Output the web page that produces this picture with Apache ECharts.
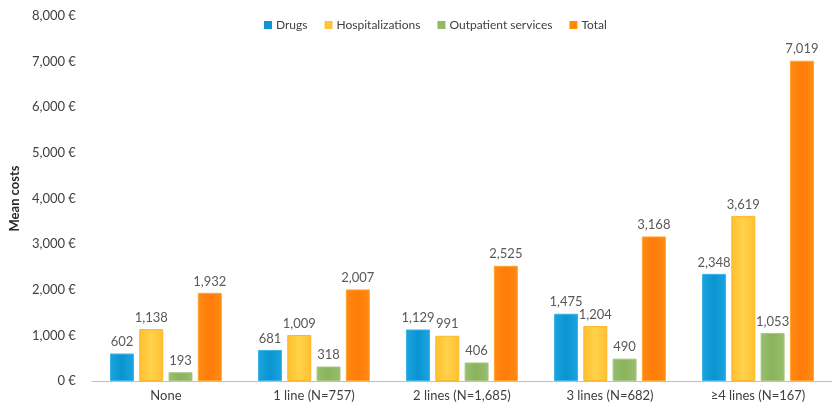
<!DOCTYPE html>
<html>
<head>
<meta charset="utf-8">
<script src="https://cdn.jsdelivr.net/npm/echarts@6/dist/echarts.min.js"></script>
<style>html,body{margin:0;padding:0;background:#fff;}#c{width:832px;height:405px;}</style>
</head>
<body>
<div id="c"></div>
<script>
var categories = ['None', '1 line (N=757)', '2 lines (N=1,685)', '3 lines (N=682)', '\u22654 lines (N=167)'];
var drugs = [602, 681, 1129, 1475, 2348];
var hospitalizations = [1138, 1009, 991, 1204, 3619];
var outpatient = [193, 318, 406, 490, 1053];
var total = [1932, 2007, 2525, 3168, 7019];
var yTicks = [0, 1000, 2000, 3000, 4000, 5000, 6000, 7000, 8000];

var FONT = 'Lato, "Open Sans", sans-serif';
function grad(edge, mid) {
  return new echarts.graphic.LinearGradient(0, 0, 1, 0, [
    {offset: 0, color: edge}, {offset: 0.5, color: mid}, {offset: 1, color: edge}
  ]);
}
function fmt(v) { return v.toLocaleString('en-US'); }
function mk(name, data, c1, c2, border) {
  return {
    name: name, type: 'bar', data: data, barWidth: 24, barGap: '22%',
    itemStyle: {color: grad(c1, c2), borderColor: border, borderWidth: 1},
    label: {show: true, position: 'top', distance: 5, color: '#595959', fontSize: 13, fontFamily: FONT,
      formatter: function (p) { return fmt(p.value); }}
  };
}
var chart = echarts.init(document.getElementById('c'), null, {renderer: 'canvas'});
chart.setOption({
  animation: false,
  legend: {
    top: 14, left: 259, itemWidth: 8, itemHeight: 8, itemGap: 17,
    icon: 'rect',
    textStyle: {color: '#404040', fontSize: 12, fontFamily: FONT, padding: [0, 0, 0, -1]},
    data: [
      {name: 'Drugs', itemStyle: {color: '#0E96D4', borderWidth: 0}},
      {name: 'Hospitalizations', itemStyle: {color: '#FFC33A', borderWidth: 0}},
      {name: 'Outpatient services', itemStyle: {color: '#93B866', borderWidth: 0}},
      {name: 'Total', itemStyle: {color: '#FF8C00', borderWidth: 0}}
    ]
  },
  grid: {left: 85, right: -10, top: 16, bottom: 24, containLabel: false},
  xAxis: {
    type: 'category', data: categories,
    axisLine: {lineStyle: {color: '#BFBFBF', width: 1}},
    axisTick: {show: false},
    axisLabel: {color: '#404040', fontSize: 13, fontFamily: FONT, margin: 8}
  },
  yAxis: {
    type: 'value', min: yTicks[0], max: yTicks[yTicks.length - 1], interval: 1000,
    name: 'Mean costs', nameLocation: 'middle', nameGap: 67, nameRotate: 90,
    nameTextStyle: {color: '#262626', fontSize: 13, fontWeight: 'bold', fontFamily: FONT},
    splitLine: {show: false},
    axisLine: {show: false}, axisTick: {show: false},
    axisLabel: {color: '#404040', fontSize: 13, fontFamily: FONT, margin: 16,
      formatter: function (v) { return fmt(v) + ' \u20ac'; }}
  },
  series: [
    mk('Drugs', drugs, '#1AA6E0', '#0A93D0', '#3DB2E6'),
    mk('Hospitalizations', hospitalizations, '#FFC02E', '#FFD24A', '#FFB52A'),
    mk('Outpatient services', outpatient, '#98BE6E', '#8AB35C', '#A9C983'),
    mk('Total', total, '#FF8A12', '#FF7C0A', '#FFA52E')
  ]
});
</script>
</body>
</html>
